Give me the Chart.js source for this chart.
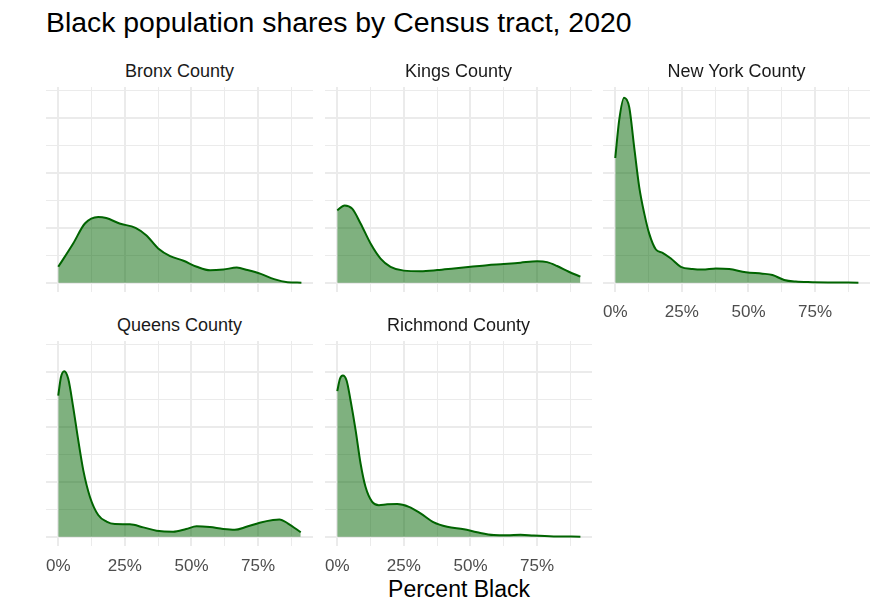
<!DOCTYPE html>
<html><head><meta charset="utf-8">
<script src="https://cdn.jsdelivr.net/npm/chart.js@4.4.0/dist/chart.umd.min.js"></script>
<style>
html,body{margin:0;padding:0;background:#fff;}
body{width:882px;height:616px;position:relative;overflow:hidden;font-family:"Liberation Sans",Arial,sans-serif;}
.t{position:absolute;white-space:nowrap;line-height:1;}
.strip{transform:translateX(-50%);font-size:18px;color:#1A1A1A;}
canvas{position:absolute;}
</style></head><body>
<div class="t" style="left:46px;top:8px;font-size:28.4px;color:#000">Black population shares by Census tract, 2020</div>
<div class="t" style="left:459px;top:578px;font-size:23px;color:#000;transform:translateX(-50%)">Percent Black</div>
<div id="wrap"></div>
<script>
// ---- data (share Black, kernel density) ----
const counties = ["Bronx County", "Kings County", "New York County", "Queens County", "Richmond County"];

const bronxPct     = [0, 0.056, 0.1, 0.15, 0.18, 0.23, 0.29, 0.33, 0.375, 0.42, 0.47, 0.52, 0.57, 0.62, 0.67, 0.71, 0.76, 0.81, 0.86, 0.9125];
const bronxDensity = [0.58, 1.43, 2.16, 2.4, 2.36, 2.16, 2.0, 1.73, 1.25, 0.97, 0.8, 0.58, 0.45, 0.48, 0.55, 0.46, 0.32, 0.13, 0.02, 0.0];

const kingsPct     = [0, 0.0275, 0.056, 0.0875, 0.125, 0.1625, 0.2, 0.25, 0.3125, 0.375, 0.4375, 0.5, 0.5625, 0.625, 0.6875, 0.75, 0.7875, 0.825, 0.869, 0.9125];
const kingsDensity = [2.64, 2.82, 2.7, 2.16, 1.43, 0.88, 0.58, 0.44, 0.42, 0.46, 0.52, 0.58, 0.64, 0.68, 0.73, 0.78, 0.75, 0.61, 0.4, 0.22];

const newYorkPct     = [0, 0.015, 0.033, 0.0525, 0.071, 0.09, 0.109, 0.1275, 0.1525, 0.1775, 0.209, 0.246, 0.29, 0.3275, 0.3775, 0.4275, 0.49, 0.5525, 0.59, 0.634, 0.6775, 0.74, 0.8025, 0.9125];
const newYorkDensity = [4.55, 5.95, 6.75, 6.4, 4.95, 3.49, 2.52, 1.79, 1.21, 1.09, 0.88, 0.58, 0.5, 0.48, 0.52, 0.5, 0.38, 0.33, 0.28, 0.1, 0.04, 0.02, 0.01, 0.0];

const queensPct     = [0, 0.01, 0.0225, 0.0375, 0.056, 0.075, 0.094, 0.119, 0.15, 0.181, 0.2125, 0.269, 0.319, 0.369, 0.431, 0.48, 0.519, 0.569, 0.619, 0.6625, 0.706, 0.756, 0.806, 0.83, 0.8625, 0.91];
const queensDensity = [5.15, 5.82, 6.04, 5.76, 4.73, 3.52, 2.42, 1.45, 0.79, 0.55, 0.46, 0.45, 0.34, 0.22, 0.18, 0.28, 0.38, 0.35, 0.28, 0.25, 0.36, 0.51, 0.61, 0.63, 0.48, 0.16];

const richmondPct     = [0, 0.01, 0.021, 0.035, 0.05, 0.069, 0.0875, 0.106, 0.131, 0.156, 0.1875, 0.225, 0.269, 0.3125, 0.3625, 0.4125, 0.475, 0.525, 0.5875, 0.6375, 0.6875, 0.7375, 0.8125, 0.9125];
const richmondDensity = [5.31, 5.76, 5.88, 5.7, 4.97, 3.88, 2.67, 1.82, 1.27, 1.15, 1.18, 1.19, 1.09, 0.85, 0.52, 0.36, 0.27, 0.16, 0.06, 0.05, 0.07, 0.04, 0.01, 0.0];

const seriesPct = [bronxPct, kingsPct, newYorkPct, queensPct, richmondPct];
const seriesDensity = [bronxDensity, kingsDensity, newYorkDensity, queensDensity, richmondDensity];

const xTickValues = [0, 0.125, 0.25, 0.375, 0.5, 0.625, 0.75, 0.875];
const xMajorTicks = [0, 0.25, 0.5, 0.75];
const xTickLabels = ["0%", "25%", "50%", "75%"];
const yTickValues = [0, 1, 2, 3, 4, 5, 6, 7];
const yMajorTicks = [0, 2, 4, 6];

// ---- layout ----
const panelLeft = [46, 325, 603, 46, 325];
const panelTop  = [87, 87, 87, 341, 341];
const panelW = 267, panelH = 205, margin = 20, axisH = 40;
const showX = [false, false, true, true, true];

const wrap = document.getElementById('wrap');
function near(a, b) { return Math.abs(a - b) < 1e-6; }

counties.forEach((name, i) => {
  const strip = document.createElement('div');
  strip.className = 't strip';
  strip.style.left = (panelLeft[i] + panelW / 2) + 'px';
  strip.style.top = (panelTop[i] - 25) + 'px';
  strip.textContent = name;
  document.body.appendChild(strip);

  const cv = document.createElement('canvas');
  const h = panelH + (showX[i] ? axisH : 0);
  cv.width = panelW + 2 * margin;
  cv.height = h;
  cv.style.left = (panelLeft[i] - margin) + 'px';
  cv.style.top = panelTop[i] + 'px';
  cv.style.width = cv.width + 'px';
  cv.style.height = h + 'px';
  wrap.appendChild(cv);

  const pts = seriesPct[i].map((x, k) => ({ x: x, y: seriesDensity[i][k] }));
  const show = showX[i];

  new Chart(cv, {
    type: 'line',
    data: { datasets: [{
      data: pts,
      borderColor: '#006400',
      borderWidth: 2,
      backgroundColor: 'rgba(0,100,0,0.5)',
      fill: 'origin',
      pointRadius: 0,
      cubicInterpolationMode: 'monotone'
    }]},
    options: {
      responsive: false,
      animation: false,
      events: [],
      layout: { padding: { left: margin, right: margin, top: 0, bottom: 0 } },
      plugins: { legend: { display: false }, tooltip: { enabled: false }, title: { display: false } },
      scales: {
        x: {
          type: 'linear', min: -0.046, max: 0.956,
          afterBuildTicks: s => { s.ticks = xTickValues.map(v => ({ value: v })); },
          afterFit: s => { s.height = show ? axisH : 0; s.paddingLeft = 0; s.paddingRight = 0; },
          grid: {
            color: '#EBEBEB', drawTicks: false,
            lineWidth: c => (c.tick && xMajorTicks.some(m => near(m, c.tick.value))) ? 2 : 1
          },
          border: { display: false },
          ticks: {
            display: show, padding: 10, color: '#4D4D4D', autoSkip: false, maxRotation: 0,
            font: { family: 'Liberation Sans', size: 17 },
            callback: v => { const k = xMajorTicks.findIndex(m => near(m, v)); return k >= 0 ? xTickLabels[k] : ''; }
          }
        },
        y: {
          min: -0.34, max: 7.14,
          afterBuildTicks: s => { s.ticks = yTickValues.map(v => ({ value: v })); },
          afterFit: s => { s.width = 0; },
          grid: {
            color: '#EBEBEB', drawTicks: false,
            lineWidth: c => (c.tick && yMajorTicks.some(m => near(m, c.tick.value))) ? 2 : 1
          },
          border: { display: false },
          ticks: { display: false }
        }
      }
    }
  });
});
</script>
</body></html>
